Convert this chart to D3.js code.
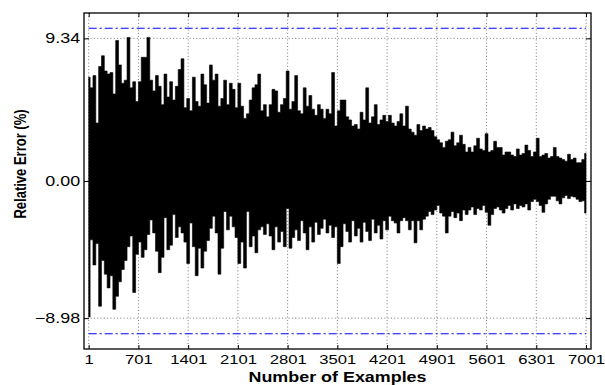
<!DOCTYPE html>
<html>
<head>
<meta charset="utf-8">
<script src="https://cdn.jsdelivr.net/npm/d3@7"></script>
<style>
body{margin:0;background:#fff}
svg{display:block;font-family:"Liberation Sans",Arial,Helvetica,sans-serif}
</style>
</head>
<body>
<script>
// tick values
const xTicks = [1, 701, 1401, 2101, 2801, 3501, 4201, 4901, 5601, 6301, 7001];
const yTicks = [-8.98, 0, 9.34];
const limits = [-10, 10];

// relative error, read per column of 40 examples: top and bottom of each swing
const step = 40;
const errHigh = [
 6.8, 6.1, 6.9, 3.8, 7.5, 8.2, 7.2, 7.0, 7.1, 5.7,
 9.2, 7.6, 6.4, 6.6, 9.4, 6.1, 6.5, 5.2, 6.5, 8.1,
 8.1, 9.4, 6.6, 5.9, 6.9, 6.2, 5.0, 7.0, 5.5, 6.5,
 5.3, 6.2, 7.3, 8.0, 4.8, 5.4, 4.6, 6.8, 5.2, 4.9,
 7.0, 6.3, 5.1, 7.6, 6.6, 7.0, 4.9, 5.4, 6.6, 5.0,
 6.4, 6.0, 4.8, 6.4, 4.9, 4.1, 4.4, 5.3, 6.1, 6.3,
 7.0, 4.6, 5.0, 4.2, 5.0, 6.0, 5.9, 4.5, 5.0, 5.4,
 7.2, 4.7, 5.2, 6.9, 4.6, 4.4, 6.1, 4.9, 5.6, 4.7,
 4.3, 5.0, 4.7, 4.1, 4.7, 4.4, 7.1, 3.6, 4.6, 5.3,
 5.3, 4.2, 4.0, 3.6, 3.7, 3.4, 4.5, 4.0, 6.1, 3.8,
 4.2, 5.0, 3.7, 4.0, 4.3, 3.9, 4.3, 3.8, 3.6, 3.9,
 4.4, 3.6, 4.9, 3.4, 3.2, 3.0, 3.7, 3.3, 3.6, 3.4,
 3.5, 3.3, 2.9, 2.7, 2.5, 2.2, 2.6, 2.7, 3.2, 2.3,
 2.5, 3.0, 2.4, 1.9, 2.2, 1.9, 2.3, 2.8, 2.1, 2.0,
 3.1, 1.9, 2.0, 2.6, 2.2, 2.2, 1.7, 1.9, 1.9, 1.7,
 1.6, 2.1, 1.7, 1.8, 2.35, 2.0, 1.6, 1.9, 2.8, 1.6,
 1.7, 1.8, 1.5, 1.6, 2.2, 1.6, 1.5, 1.4, 1.3, 1.75,
 1.4, 1.5, 1.2, 1.2, 1.4, 1.8
];
const errLow = [
 -8.9, -3.85, -5.5, -4.1, -8.2, -5.2, -6.1, -7.0, -6.2, -8.4,
 -7.55, -6.6, -5.8, -5.2, -4.3, -3.6, -7.3, -4.8, -4.0, -5.0,
 -4.5, -3.5, -2.55, -3.4, -4.6, -6.0, -5.0, -2.4, -4.5, -4.2,
 -2.2, -3.7, -3.0, -3.4, -4.0, -5.4, -2.75, -4.3, -6.2, -4.4,
 -5.7, -4.6, -3.9, -3.1, -2.3, -3.4, -6.1, -4.4, -2.0, -3.2,
 -2.3, -3.0, -3.7, -5.4, -4.0, -5.7, -2.0, -4.3, -3.6, -4.7,
 -3.2, -3.0, -3.5, -2.8, -3.6, -4.5, -3.0, -4.0, -3.3, -4.3,
 -1.8, -4.4, -3.7, -3.2, -3.9, -2.6, -3.4, -4.5, -3.0, -4.0,
 -2.7, -3.5, -3.1, -2.5, -3.4, -2.9, -3.7, -3.0, -5.4, -4.3,
 -2.8, -3.3, -4.0, -2.6, -3.6, -3.1, -4.0, -2.7, -3.3, -3.9,
 -2.5, -3.4, -2.9, -3.8, -2.6, -3.2, -2.3, -2.6, -2.75, -3.4,
 -2.6, -2.4, -2.6, -3.2, -2.6, -4.05, -2.6, -3.2, -2.5, -2.3,
 -2.0, -2.2, -1.9, -1.6, -2.1, -2.3, -3.4, -2.3, -2.0, -2.4,
 -2.1, -2.6, -1.9, -2.2, -1.9, -1.7, -2.2, -1.8, -1.9, -1.6,
 -2.05, -2.9, -2.2, -1.8, -1.7, -1.9, -2.1, -1.8, -1.6, -1.9,
 -1.5, -1.8, -1.6, -1.7, -1.5, -1.9, -1.35, -1.2, -1.35, -1.6,
 -2.05, -1.5, -1.2, -1.0, -1.0, -1.3, -1.5, -1.1, -0.95, -1.15,
 -1.0, -1.05, -1.2, -1.35, -1.3, -2.1
];

const w = 605, h = 385;
const pl = 84, pr = 591, pt = 13, pb = 349;
const sx = 1.28; // the original figure is stretched sideways

const columns = errHigh.map((v, k) => ({n: 1 + k * step, hi: v, lo: errLow[k]}));

const xscale = d3.scaleLinear().domain([-65, 7071]).range([pl, pr]);
const yscale = d3.scaleLinear().domain([-11, 11]).range([pb, pt]);

const svg = d3.select("body").append("svg")
  .attr("width", w)
  .attr("height", h);

svg.append("rect").attr("width", w).attr("height", h).attr("fill", "#fff");

svg.append("clipPath").attr("id", "plot")
  .append("rect")
  .attr("x", pl).attr("y", pt)
  .attr("width", pr - pl).attr("height", pb - pt);

// dotted grid
svg.append("g").selectAll("line")
  .data(xTicks)
  .enter().append("line")
  .attr("x1", d => xscale(d)).attr("x2", d => xscale(d))
  .attr("y1", pt).attr("y2", pb)
  .attr("stroke", "#555").attr("stroke-width", 0.8)
  .attr("stroke-dasharray", "1,2.3");

svg.append("g").selectAll("line")
  .data(yTicks)
  .enter().append("line")
  .attr("x1", pl).attr("x2", pr)
  .attr("y1", d => yscale(d)).attr("y2", d => yscale(d))
  .attr("stroke", "#555").attr("stroke-width", 0.8)
  .attr("stroke-dasharray", "1,2.3");

// error trace: every column filled from its low swing to its high swing
const band = d3.area()
  .curve(d3.curveStep)
  .x(d => xscale(d.n))
  .y0(d => yscale(d.lo))
  .y1(d => yscale(d.hi));
svg.append("path")
  .datum(columns)
  .attr("clip-path", "url(#plot)")
  .attr("d", band)
  .attr("fill", "#000")
  .attr("stroke", "#000")
  .attr("stroke-width", 0.6);

// +-10% bounds
svg.append("g").selectAll("line")
  .data(limits)
  .enter().append("line")
  .attr("x1", xscale(1)).attr("x2", xscale(7001))
  .attr("y1", d => yscale(d)).attr("y2", d => yscale(d))
  .attr("stroke", "#0000ff").attr("stroke-width", 1.1)
  .attr("stroke-dasharray", "8,3,2,3");

// axes
const xAxis = d3.axisBottom(xscale).tickValues(xTicks)
  .tickSizeInner(-4).tickSizeOuter(0).tickPadding(6)
  .tickFormat(d3.format("d"));
const gx = svg.append("g")
  .attr("transform", "translate(0," + pb + ")")
  .call(xAxis);

const gxTop = svg.append("g")
  .attr("transform", "translate(0," + pt + ")")
  .call(d3.axisTop(xscale).tickValues(xTicks).tickSizeInner(-4).tickSizeOuter(0).tickFormat(""));

const yAxis = d3.axisLeft(yscale).tickValues(yTicks)
  .tickSizeInner(-5).tickSizeOuter(0).tickPadding(3)
  .tickFormat(d3.format(".2f"));
const gy = svg.append("g")
  .attr("transform", "translate(" + pl + ",0)")
  .call(yAxis);

const gyRight = svg.append("g")
  .attr("transform", "translate(" + pr + ",0)")
  .call(d3.axisRight(yscale).tickValues(yTicks).tickSizeInner(-5).tickSizeOuter(0).tickFormat(""));

[gx, gxTop, gy, gyRight].forEach(g => {
  g.select(".domain").remove();
  g.selectAll(".tick line").attr("stroke", "#000").attr("stroke-width", 1);
  g.selectAll("text")
    .attr("font-family", "Liberation Sans, Arial, sans-serif")
    .attr("font-size", 14)
    .attr("fill", "#000")
    .attr("transform", "scale(" + sx + ",1)");
});
gx.selectAll("text").attr("font-size", 13);

// box
svg.append("rect")
  .attr("x", pl).attr("y", pt)
  .attr("width", pr - pl).attr("height", pb - pt)
  .attr("fill", "none").attr("stroke", "#000").attr("stroke-width", 1.3);

// titles
svg.append("text")
  .attr("transform", "translate(" + ((pl + pr) / 2) + ",382) scale(" + sx + ",1)")
  .attr("text-anchor", "middle")
  .attr("font-size", 14).attr("font-weight", "bold")
  .text("Number of Examples");

svg.append("text")
  .attr("transform", "translate(26,164) scale(" + sx + ",1) rotate(-90)")
  .attr("text-anchor", "middle")
  .attr("font-size", 13).attr("font-weight", "bold")
  .text("Relative Error (%)");
</script>
</body>
</html>
